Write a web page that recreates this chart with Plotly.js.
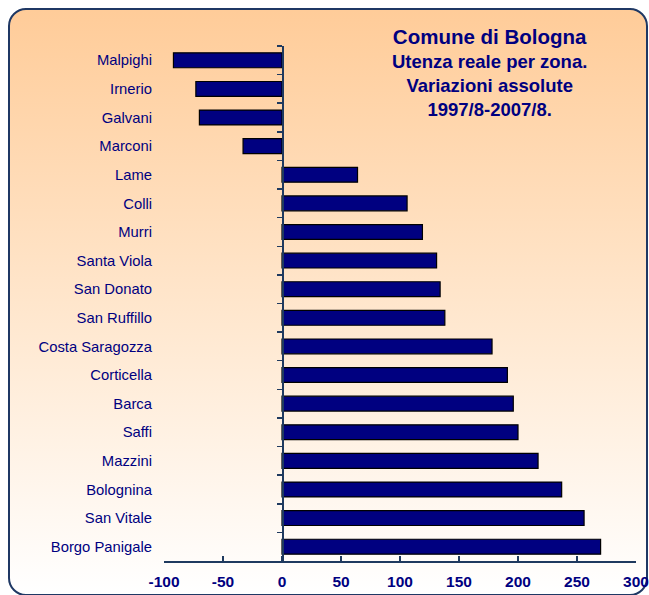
<!DOCTYPE html>
<html>
<head>
<meta charset="utf-8">
<script src="https://cdn.plot.ly/plotly-3.0.1.min.js"></script>
<style>
  html, body { margin:0; padding:0; width:649px; height:595px; overflow:hidden; background:#ffffff; }
  #frame { position:absolute; left:8px; top:8px; width:636px; height:584px;
           border:2px solid #1F3864; border-radius:18px;
           background:linear-gradient(to bottom, #FFCC99 0%, #FFE6CC 50%, #FFFFFF 100%); }
  #chart { position:absolute; left:0; top:0; width:649px; height:595px; }
</style>
</head>
<body>
<div id="frame"></div>
<div id="chart"></div>
<script>
const zones = ["Malpighi","Irnerio","Galvani","Marconi","Lame","Colli","Murri","Santa Viola",
  "San Donato","San Ruffillo","Costa Saragozza","Corticella","Barca","Saffi","Mazzini",
  "Bolognina","San Vitale","Borgo Panigale"];
const variations = [-92,-73,-70,-33,64,106,119,131,134,138,178,191,196,200,217,237,256,270];
const xTicks = [-100,-50,0,50,100,150,200,250,300];
const titleLines = ["Comune di Bologna","Utenza reale per zona.","Variazioni assolute","1997/8-2007/8."];

const navy = "#000080";
const axisCol = "#1F3A5F";

const traces = [
  { type:"bar", orientation:"h", x:variations, y:zones, xaxis:"x", yaxis:"y",
    marker:{color:navy, line:{color:"#000000", width:1.2}}, hoverinfo:"x+y" },
  { type:"scatter", mode:"markers", x:variations, y:zones, xaxis:"x", yaxis:"y2",
    marker:{opacity:0}, hoverinfo:"skip", showlegend:false }
];

const layout = {
  width:649, height:595,
  margin:{l:164, r:13, t:46, b:34},
  paper_bgcolor:"rgba(0,0,0,0)", plot_bgcolor:"rgba(0,0,0,0)",
  showlegend:false, bargap:0.48,
  font:{family:"Liberation Sans, Arial, sans-serif", color:navy},
  xaxis:{ range:[-100,300], tickvals:xTicks, ticktext:xTicks.map(String),
    showline:true, linecolor:axisCol, linewidth:1.5, ticks:"inside", ticklen:5,
    tickcolor:axisCol, tickwidth:1.5, showgrid:false, zeroline:false,
    tickfont:{size:15.5, color:navy, family:"Liberation Sans, Arial, sans-serif", weight:"bold"},
    ticklabelstandoff:6 },
  yaxis:{ type:"category", categoryorder:"array", categoryarray:zones, range:[17.5,-0.5],
    showline:false, ticks:"", showgrid:false, zeroline:false,
    tickfont:{size:14.8, color:navy}, ticklabelstandoff:11 },
  yaxis2:{ type:"category", categoryorder:"array", categoryarray:zones, range:[17.5,-0.5],
    overlaying:"y", anchor:"free", position:0.25, side:"left",
    showline:true, linecolor:axisCol, linewidth:1.5, ticks:"outside", tickson:"boundaries",
    ticklen:5, tickcolor:axisCol, tickwidth:1.5, showticklabels:false, showgrid:false, zeroline:false },
  annotations:[{
    xref:"paper", yref:"paper", x:0.69, y:1.045, xanchor:"center", yanchor:"top",
    showarrow:false, align:"center",
    text:'<span style="font-size:20.5px">'+titleLines[0]+'</span><br>'+titleLines.slice(1).join('<br>'),
    font:{size:18.5, color:navy, family:"Liberation Sans, Arial, sans-serif", weight:"bold"}
  }]
};

Plotly.newPlot("chart", traces, layout, {displayModeBar:false, staticPlot:true});
</script>
</body>
</html>
